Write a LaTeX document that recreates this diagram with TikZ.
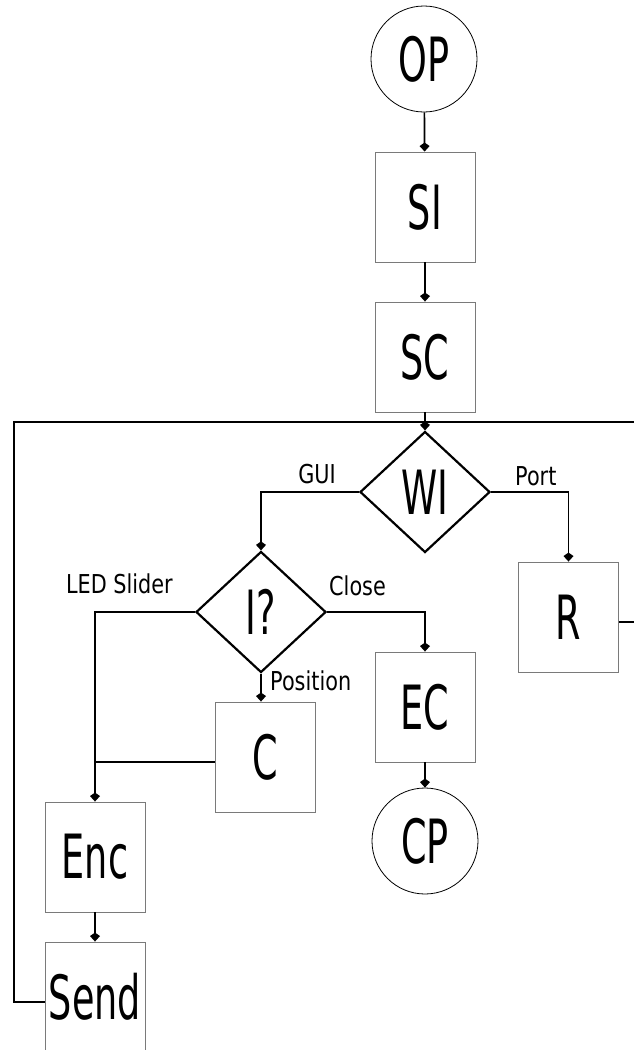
\documentclass[tikz,border=0pt]{standalone}
\usepackage{fontspec}
\usepackage{tikz}
\usetikzlibrary{arrows.meta,positioning,calc,shapes.geometric}
\newfontfamily\bigfont{DejaVu Sans}[FakeStretch=0.6]
\newfontfamily\labfont{DejaVu Sans}[FakeStretch=0.8]
\definecolor{BoxGray}{HTML}{7A7A7A}

\begin{document}
\begin{tikzpicture}[x=1pt,y=-1pt,>={Kite[length=9pt,width=10pt,inset=3.5pt]},
  box/.style={draw=BoxGray,line width=0.9pt,minimum width=100pt,minimum height=110pt,
    inner sep=0pt,font=\bigfont\fontsize{61}{62}\selectfont},
  terminal/.style={circle,draw,line width=0.8pt,minimum size=106pt,inner sep=0pt,
    font=\bigfont\fontsize{61}{62}\selectfont},
  decision/.style={diamond,draw,line width=2.2pt,minimum width=130pt,minimum height=121pt,
    inner sep=0pt,font=\bigfont\fontsize{61}{62}\selectfont},
  lbl/.style={inner sep=0pt,font=\labfont\fontsize{26}{27}\selectfont},
  flow/.style={line width=1.7pt}]
  \useasboundingbox (0,0) rectangle (634,1050);
  % main column
  \node[terminal] (OP) at (424,59) {OP};
  \node[box] (SI) at (425,207) {SI};
  \node[box] (SC) at (425,357) {SC};
  \node[decision] (WI) at (425,492) {WI};
  \node[decision] (IQ) at (261,612) {I?};
  \node[box] (R) at (568.5,617) {R};
  \node[box] (EC) at (425,707) {EC};
  \node[terminal] (CP) at (425,841) {CP};
  \node[box] (C) at (265,757) {C};
  \node[box] (Enc) at (95,857) {Enc};
  \node[box] (Send) at (95,997) {Send};
  % branch labels
  \node[lbl,anchor=base east] (lgui) at (336,483) {GUI};
  \node[lbl,anchor=base west] (lport) at (515,485) {Port};
  \node[lbl,anchor=base east] (lled) at (173,593) {LED Slider};
  \node[lbl,anchor=base west] (lclose) at (329,595) {Close};
  \node[lbl,anchor=base west] (lpos) at (270,690) {Position};
  \coordinate (fbleft) at (14,422);
  \coordinate (fbright) at (634,422);
  \coordinate (rout) at (634,622);
  % connectors
  \draw[flow,->] (OP) -- (SI);
  \draw[flow,->] (SI) -- (SC);
  \draw[flow,->] (SC) -- (WI);
  \draw[flow,->] (WI.west) -| (IQ.north);
  \draw[flow,->] (WI.east) -| (R.north);
  \draw[flow,->] (IQ.west) -| (Enc.north);
  \draw[flow,->] (IQ.east) -| (EC.north);
  \draw[flow,->] (IQ.south) -- (IQ.south |- C.north);
  \draw[flow] ([yshift=-5pt]C.west) -- ([yshift=-5pt]C.west -| Enc.north);
  \draw[flow,->] (EC) -- (CP);
  \draw[flow,->] (Enc) -- (Send);
  \draw[flow] ([yshift=-5pt]Send.west) -| (fbleft) -- (fbright);
  \draw[flow] (R.east |- rout) -- (rout);
\end{tikzpicture}
\end{document}
